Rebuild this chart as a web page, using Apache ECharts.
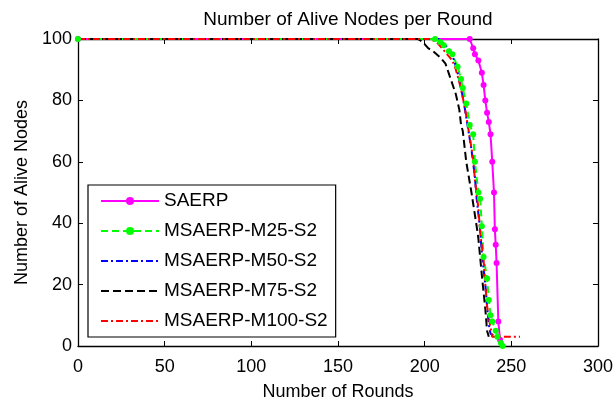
<!DOCTYPE html>
<html>
<head>
<meta charset="utf-8">
<title>Number of Alive Nodes per Round</title>
<script src="https://cdn.jsdelivr.net/npm/echarts@6/dist/echarts.min.js"></script>
<style>
  html, body { margin: 0; padding: 0; background: #fff; }
  #main { width: 616px; height: 406px; }
</style>
</head>
<body>
<div id="main"></div>
<script>
// x ticks / y ticks
const roundTicks = [0, 50, 100, 150, 200, 250, 300];
const aliveTicks = [0, 20, 40, 60, 80, 100];

// [round, alive nodes]
const saerp = [
  [0, 100], [226, 100], [228, 97], [229, 95], [231, 93], [233, 89], [234, 85],
  [235, 80], [236, 76], [237, 73], [238, 69], [239, 60], [240, 50], [240.5, 38],
  [241, 33], [241.5, 27], [242.5, 8], [243.5, 2]
];
const m25 = [
  [0, 100], [206, 100], [209, 99], [211, 98], [214, 96], [216, 95], [219, 91],
  [221, 87], [222, 84], [224, 79], [226, 72], [228, 69], [229, 60], [231, 50],
  [232, 48], [233, 39], [234, 29], [236, 22], [237, 15], [238, 10], [239, 8],
  [241, 5], [242, 3], [244, 1], [245, 0]
];
const m50 = [
  [0, 100], [208, 100], [212, 98], [215, 96], [217, 93], [219, 89], [221, 84],
  [223, 78], [225, 71], [227, 64], [229, 55], [230, 48], [232, 38], [233, 30],
  [235, 20], [236, 13], [237, 7], [238, 4], [241, 3]
];
const m75 = [
  [0, 100], [196, 100], [199, 99], [202, 97], [205, 96], [209, 94], [212, 92],
  [215, 87], [218, 82], [220, 77], [221, 72], [222, 70], [224, 60], [227, 50],
  [230, 39], [231, 35], [233, 23], [235, 12], [236, 5], [237, 3]
];
const m100 = [
  [0, 100], [203, 100], [207, 99], [210, 97], [213, 95], [216, 93], [218, 90],
  [220, 86], [222, 81], [224, 75], [226, 68], [228, 61], [229, 54], [231, 45],
  [232, 37], [234, 28], [235, 20], [236, 13], [238, 6], [239, 3], [255, 3]
];

const font = "'Liberation Sans', Arial, Helvetica, sans-serif";

const chart = echarts.init(document.getElementById("main"), null, { renderer: "canvas" });

function boxAxis(pos, ticks, extra) {
  // axis with inside ticks like matlab's box
  return Object.assign({
    type: "value",
    position: pos,
    min: ticks[0],
    max: ticks[ticks.length - 1],
    interval: ticks[1] - ticks[0],
    axisLine: { show: true, onZero: false, lineStyle: { color: "#000", width: 1.3 } },
    axisTick: { show: true, inside: true, length: 5, lineStyle: { color: "#000", width: 1 } },
    splitLine: { show: false },
    axisLabel: { show: false }
  }, extra || {});
}

// legend entries for lines without markers: hide the dot
const noDot = { color: "transparent", borderWidth: 0 };

const option = {
  animation: false,
  backgroundColor: "#fff",
  title: {
    text: "Number of Alive Nodes per Round",
    left: 343,
    textAlign: "center",
    top: 5,
    textStyle: { fontFamily: font, fontSize: 19, fontWeight: "normal", color: "#000" }
  },
  legend: {
    orient: "vertical",
    left: 88,
    top: 185,
    padding: [6, 8, 6, 12],
    itemWidth: 58,
    itemHeight: 10,
    itemGap: 10,
    backgroundColor: "#fff",
    borderColor: "#000",
    borderWidth: 1.2,
    borderRadius: 0,
    textStyle: { fontFamily: font, fontSize: 19, color: "#000", lineHeight: 20 },
    data: [
      { name: "SAERP" },
      { name: "MSAERP-M25-S2" },
      { name: "MSAERP-M50-S2", itemStyle: noDot },
      { name: "MSAERP-M75-S2", itemStyle: noDot },
      { name: "MSAERP-M100-S2", itemStyle: noDot }
    ]
  },
  grid: { left: 78, right: 16, top: 39, bottom: 56 },
  xAxis: [
    boxAxis("bottom", roundTicks, {
      name: "Number of Rounds",
      nameLocation: "middle",
      nameGap: 37,
      nameTextStyle: { fontFamily: font, fontSize: 18, color: "#000" },
      axisLabel: { show: true, margin: 12, fontFamily: font, fontSize: 18, color: "#000" }
    }),
    boxAxis("top", roundTicks)
  ],
  yAxis: [
    boxAxis("left", aliveTicks, {
      name: "Number of Alive Nodes",
      nameLocation: "middle",
      nameGap: 47,
      nameTextStyle: { fontFamily: font, fontSize: 18, color: "#000" },
      axisLabel: { show: true, margin: 6, fontFamily: font, fontSize: 18, color: "#000" }
    }),
    boxAxis("right", aliveTicks)
  ],
  series: [
    {
      name: "SAERP",
      type: "line",
      data: saerp,
      symbol: "circle",
      symbolSize: 6,
      itemStyle: { color: "#ff00ff" },
      lineStyle: { color: "#ff00ff", width: 2 }
    },
    {
      name: "MSAERP-M25-S2",
      type: "line",
      data: m25,
      symbol: "circle",
      symbolSize: 6,
      itemStyle: { color: "#00ff00" },
      lineStyle: { color: "#00ff00", width: 2, type: [7, 4] }
    },
    {
      name: "MSAERP-M50-S2",
      type: "line",
      data: m50,
      symbol: "none",
      itemStyle: { color: "#0000ff" },
      lineStyle: { color: "#0000ff", width: 2, type: [7, 3, 2, 3] }
    },
    {
      name: "MSAERP-M75-S2",
      type: "line",
      data: m75,
      symbol: "none",
      itemStyle: { color: "#000" },
      lineStyle: { color: "#000", width: 2, type: [8, 4] }
    },
    {
      name: "MSAERP-M100-S2",
      type: "line",
      data: m100,
      symbol: "none",
      itemStyle: { color: "#ff0000" },
      lineStyle: { color: "#ff0000", width: 2, type: [7, 3, 2, 3] }
    }
  ]
};

chart.setOption(option);
</script>
</body>
</html>
